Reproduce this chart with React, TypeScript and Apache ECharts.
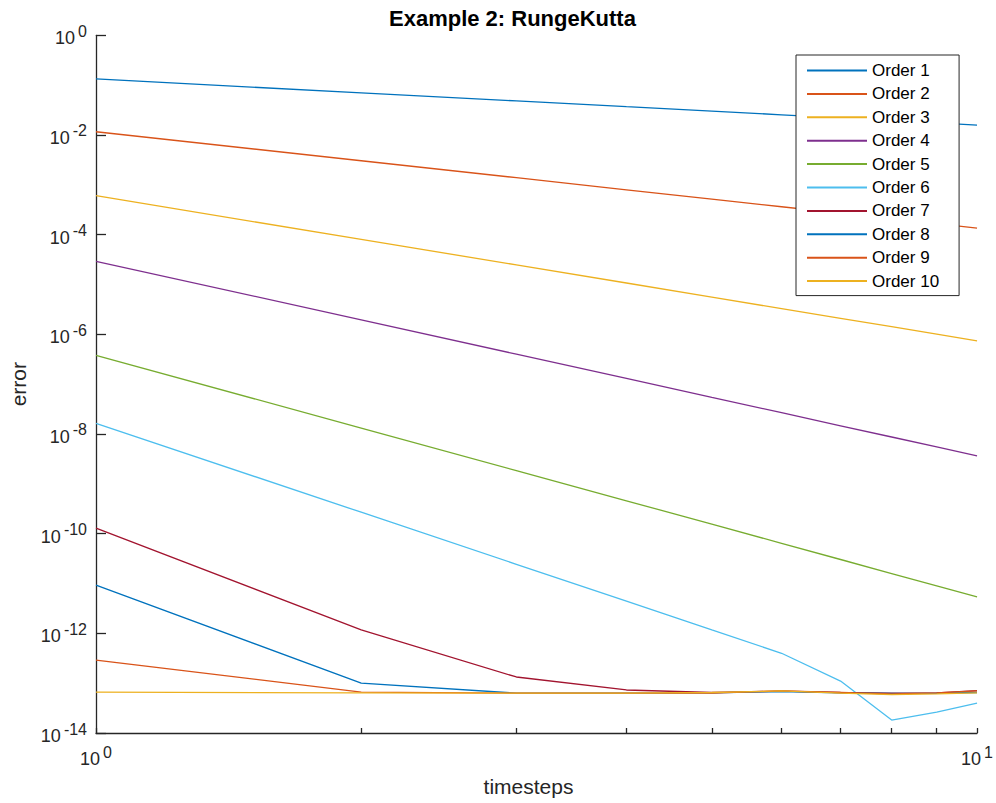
import React, { useEffect, useRef } from "react";
import * as echarts from "echarts";

const timesteps = [1, 2, 3, 4, 5, 6, 7, 8, 9, 10];

const order1 = [0.133, 0.070, 0.0482, 0.0369, 0.0301, 0.0254, 0.0220, 0.0195, 0.0175, 0.0158];
const order2 = [0.0116, 3.04e-3, 1.39e-3, 7.9e-4, 5.15e-4, 3.63e-4, 2.69e-4, 2.08e-4, 1.66e-4, 1.35e-4];
const order3 = [6.04e-4, 8.03e-5, 2.47e-5, 1.07e-5, 5.57e-6, 3.28e-6, 2.09e-6, 1.42e-6, 1.01e-6, 7.4e-7];
const order4 = [2.92e-5, 1.95e-6, 4.0e-7, 1.30e-7, 5.43e-8, 2.67e-8, 1.46e-8, 8.7e-9, 5.5e-9, 3.63e-9];
const order5 = [3.79e-7, 1.31e-8, 1.84e-9, 4.57e-10, 1.55e-10, 6.4e-11, 3.03e-11, 1.58e-11, 8.97e-12, 5.37e-12];
const order6 = [1.64e-8, 2.69e-10, 2.43e-11, 4.41e-12, 1.17e-12, 3.98e-13, 1.1e-13, 1.82e-14, 2.63e-14, 3.98e-14];
const order7 = [1.29e-10, 1.17e-12, 1.33e-13, 7.3e-14, 6.5e-14, 6.9e-14, 6.5e-14, 6.3e-14, 6.4e-14, 7.1e-14];
const order8 = [9.3e-12, 1.0e-13, 6.3e-14, 6.3e-14, 6.4e-14, 6.8e-14, 6.4e-14, 6.2e-14, 6.3e-14, 6.5e-14];
const order9 = [2.9e-13, 6.6e-14, 6.3e-14, 6.3e-14, 6.3e-14, 7.0e-14, 6.5e-14, 6.1e-14, 6.4e-14, 7.0e-14];
const order10 = [6.6e-14, 6.4e-14, 6.3e-14, 6.3e-14, 6.5e-14, 7.0e-14, 6.3e-14, 5.9e-14, 6.1e-14, 6.4e-14];

const seriesNames = ["Order 1", "Order 2", "Order 3", "Order 4", "Order 5", "Order 6", "Order 7", "Order 8", "Order 9", "Order 10"];
const seriesValues = [order1, order2, order3, order4, order5, order6, order7, order8, order9, order10];
const colors = ["#0072BD", "#D95319", "#EDB120", "#7E2F8E", "#77AC30", "#4DBEEE", "#A2142F", "#0072BD", "#D95319", "#EDB120"];

const xTickValues = [1, 2, 3, 4, 5, 6, 7, 8, 9, 10];
const xLabelValues = [1, 10];

const FONT = "'Liberation Sans', Arial, Helvetica, sans-serif";
const AXIS_COLOR = "#262626";

const powerLabel = (v: number) => {
  const e = Math.round(Math.log10(v));
  return `{b|10}{e|${e}}`;
};

const richPow = {
  b: { fontSize: 18, fontFamily: FONT, color: AXIS_COLOR, padding: [6, 0, 0, 0] },
  e: { fontSize: 16, fontFamily: FONT, color: AXIS_COLOR, padding: [0, 0, 8, 3] },
};

export default function App() {
  const ref = useRef<HTMLDivElement>(null);
  useEffect(() => {
    document.body.style.margin = "0";
    if (!ref.current) return;
    const chart = echarts.init(ref.current, null, { renderer: "svg" });
    chart.setOption({
      animation: false,
      backgroundColor: "#ffffff",
      color: colors,
      title: {
        text: "Example 2: RungeKutta",
        left: 389,
        top: 7,
        padding: 0,
        textStyle: { fontFamily: FONT, fontSize: 22, fontWeight: "bold", color: "#000000" },
      },
      grid: { left: 96, right: 18, top: 35.3, bottom: 70, containLabel: false },
      legend: {
        orient: "vertical",
        left: 796,
        top: 55,
        padding: [7, 20, 6, 11],
        itemGap: 6.4,
        itemWidth: 60,
        itemHeight: 2,
        icon: "rect",
        borderColor: AXIS_COLOR,
        borderWidth: 1,
        backgroundColor: "#ffffff",
        textStyle: { fontFamily: FONT, fontSize: 17, lineHeight: 17, color: "#000000" },
        data: seriesNames,
      },
      xAxis: {
        type: "log",
        logBase: 10,
        min: 1,
        max: 10,
        name: "timesteps",
        nameLocation: "middle",
        nameGap: 43,
        nameTextStyle: { fontFamily: FONT, fontSize: 21, color: AXIS_COLOR, padding: [0, 16, 0, 0] },
        axisLine: { show: true, lineStyle: { color: AXIS_COLOR, width: 1.3 } },
        axisTick: { show: true, inside: true, length: 5, customValues: xTickValues, lineStyle: { color: AXIS_COLOR, width: 1.3 } },
        axisLabel: { customValues: xLabelValues, margin: 11, formatter: powerLabel, rich: richPow },
        splitLine: { show: false },
        minorTick: { show: false },
      },
      yAxis: {
        type: "log",
        logBase: 10,
        min: 1e-14,
        max: 1,
        interval: 2,
        name: "error",
        nameLocation: "middle",
        nameGap: 67,
        nameTextStyle: { fontFamily: FONT, fontSize: 21, color: AXIS_COLOR },
        axisLine: { show: true, lineStyle: { color: AXIS_COLOR, width: 1.3 } },
        axisTick: { show: true, inside: true, length: 10, lineStyle: { color: AXIS_COLOR, width: 1.3 } },
        axisLabel: { margin: 9, formatter: powerLabel, rich: richPow },
        splitLine: { show: false },
      },
      series: seriesNames.map((name, i) => ({
        name,
        type: "line",
        data: timesteps.map((t, j) => [t, seriesValues[i][j]]),
        showSymbol: false,
        symbol: "none",
        lineStyle: { width: 1.3, color: colors[i] },
        itemStyle: { color: colors[i] },
        emphasis: { disabled: true },
      })),
    });
    return () => chart.dispose();
  }, []);
  return <div ref={ref} style={{ width: 996, height: 803 }} />;
}
